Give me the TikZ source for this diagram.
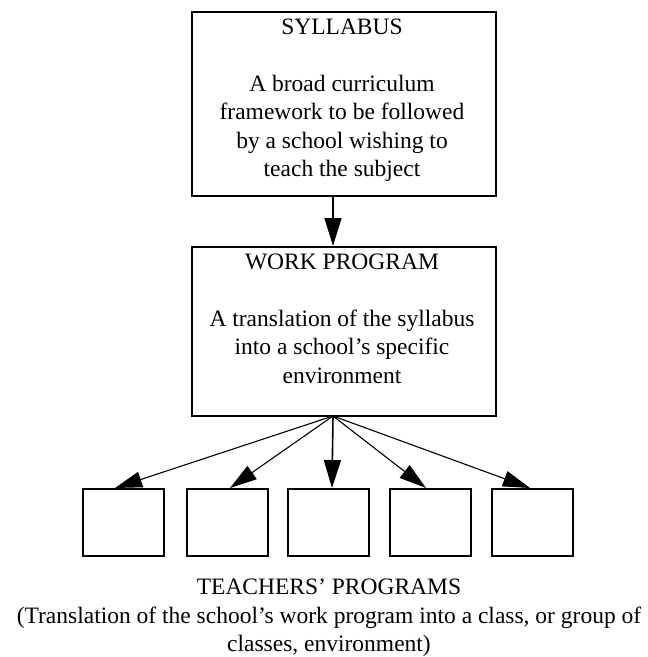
\documentclass[tikz,border=0pt]{standalone}
\usepackage{fontspec}
\setmainfont{Liberation Serif}
\usetikzlibrary{arrows.meta}
\begin{document}
\begin{tikzpicture}[x=1pt,y=-1pt,
  bigbox/.style={draw, line width=2pt, minimum width=304pt, inner sep=0pt},
  smallbox/.style={draw, line width=2pt, minimum width=81pt, minimum height=67pt, inner sep=0pt},
  txt/.style={font=\fontsize{23.5pt}{28.3pt}\selectfont, align=center, inner sep=0pt, anchor=north},
  thinarrow/.style={line width=1.1pt, -{Triangle[length=27pt,width=16pt]}},
  thickarrow/.style={line width=1.6pt, -{Triangle[length=28pt,width=17pt]}}]
\useasboundingbox (0,0) rectangle (648,657);
% boxes
\node[bigbox, minimum height=184pt] (syl) at (344,104) {};
\node[bigbox, minimum height=169pt] (wp) at (344,331.5) {};
\node[smallbox] (t1) at (123.5,522.5) {};
\node[smallbox] (t2) at (227,522.5) {};
\node[smallbox] (t3) at (328.5,522.5) {};
\node[smallbox] (t4) at (430,522.5) {};
\node[smallbox] (t5) at (532,522.5) {};
% texts
\node[txt] (sylt) at (342,19.2) {SYLLABUS\\[28.3pt]A broad curriculum\\framework to be followed\\by a school wishing to\\teach the subject};
\node[txt] (wpt) at (342,254.1) {WORK PROGRAM\\[28.3pt]A translation of the syllabus\\into a school’s specific\\environment};
\node[txt] (tpt) at (329,579) {TEACHERS’ PROGRAMS\\(Translation of the school’s work program into a class, or group of\\classes, environment)};
% connectors
\coordinate (src) at (333,416);
\draw[thickarrow] (syl.south -| src) -- (wp.north -| src);
\draw[thinarrow] (src) -- ([xshift=-8.5pt]t1.north);
\draw[thinarrow] (src) -- ([xshift=3pt]t2.north);
\draw[thickarrow] (src) -- ([xshift=3.5pt]t3.north);
\draw[thinarrow] (src) -- ([xshift=-4pt]t4.north);
\draw[thinarrow] (src) -- ([xshift=-2pt]t5.north);
\end{tikzpicture}
\end{document}
